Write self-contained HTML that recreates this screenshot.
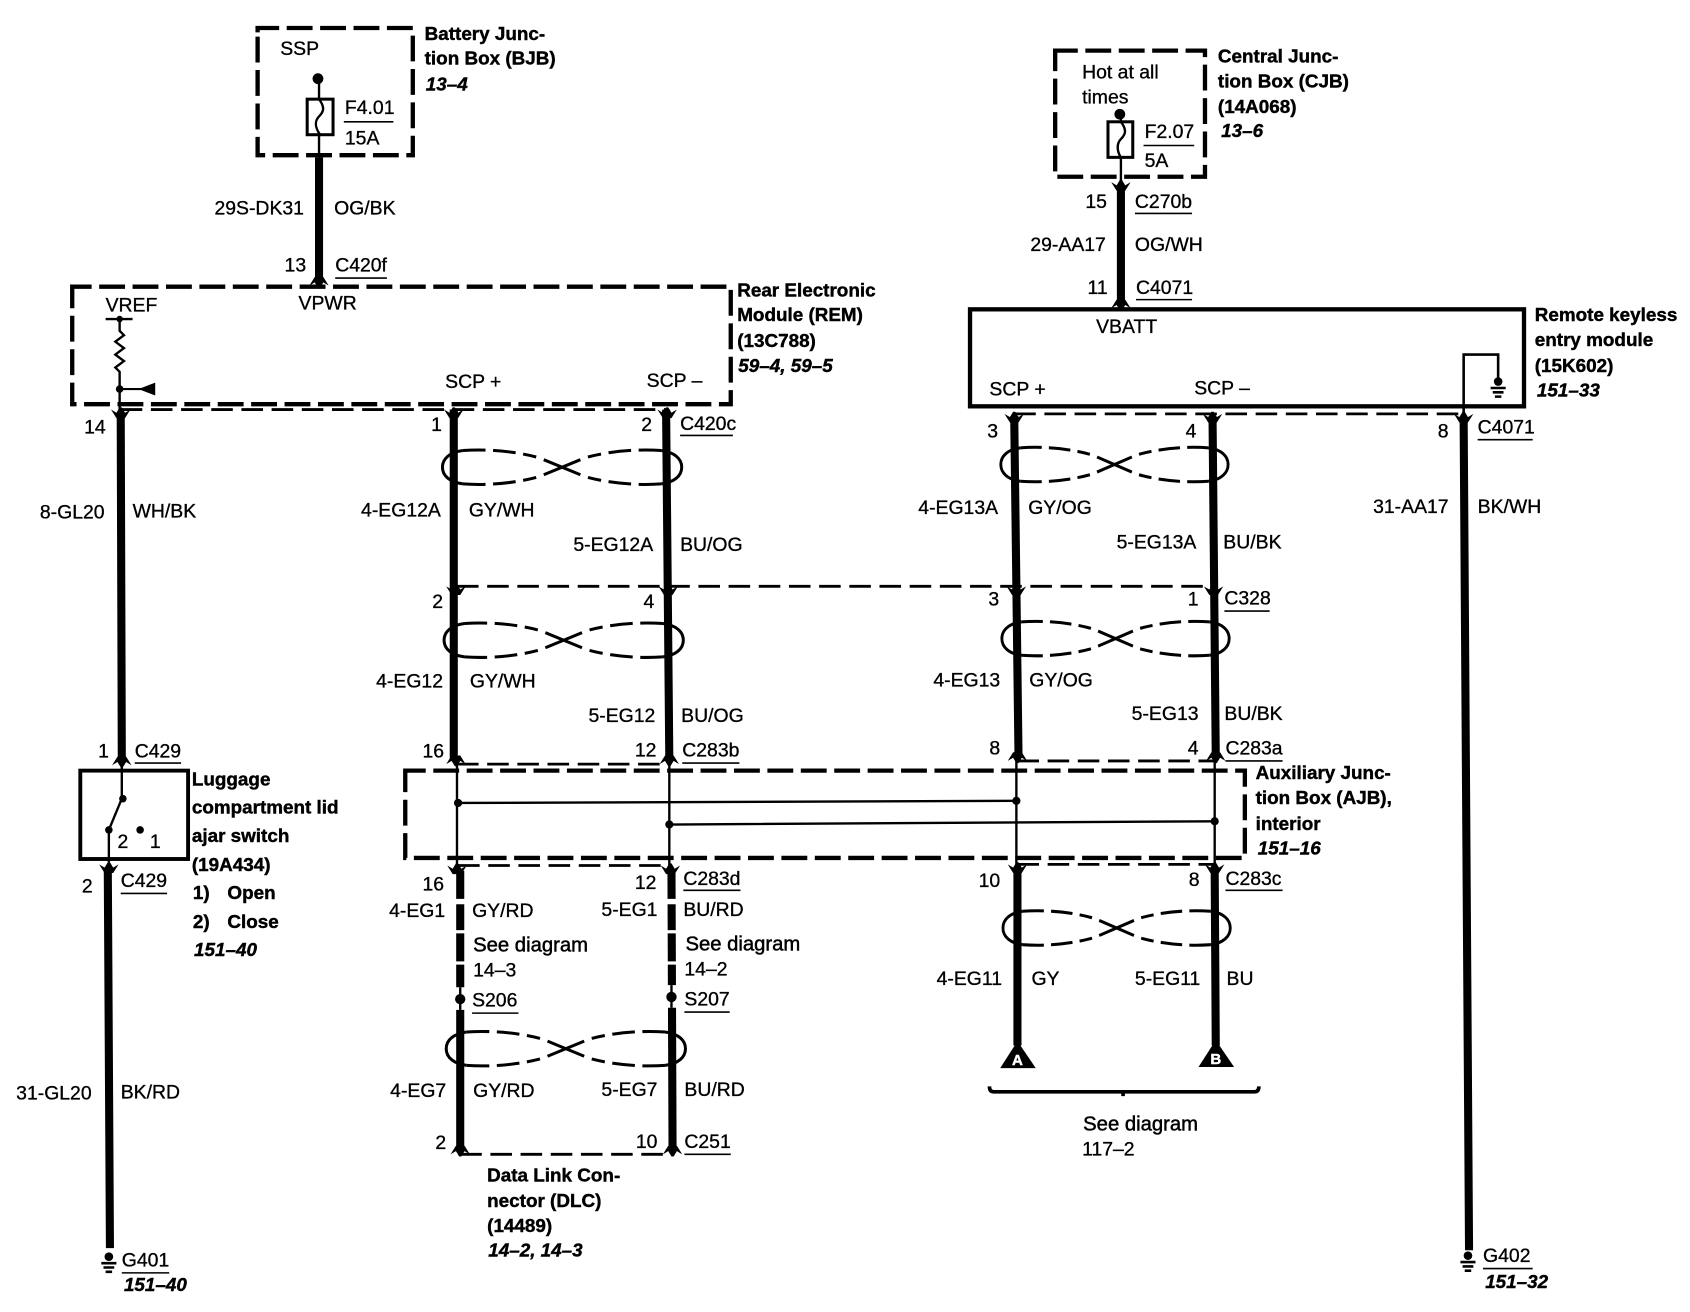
<!DOCTYPE html>
<html><head><meta charset="utf-8"><style>
html,body{margin:0;padding:0;background:#fff}
svg{display:block}
text{font-family:"Liberation Sans",sans-serif;font-size:18px;fill:#000;stroke:#000;stroke-width:.3}
.b{font-weight:bold;font-size:17.5px;stroke-width:.4}
.i{font-weight:bold;font-style:italic;font-size:17.5px;stroke-width:.4}
.s{font-size:18.8px;stroke-width:.45}
.w{fill:none;stroke:#000;stroke-width:7.5}
.n{fill:none;stroke:#000;stroke-width:2.2}
.d{fill:none;stroke:#000;stroke-width:2.6;stroke-dasharray:20 8}
.x{fill:none;stroke:#000;stroke-width:4;stroke-dasharray:24 7}
.u{fill:none;stroke:#000;stroke-width:1.5}
</style></head><body>
<svg xmlns="http://www.w3.org/2000/svg" width="1690" height="1312" viewBox="0 0 1568 1217.3">
<defs>
<g id="tw" fill="none" stroke="#000" stroke-width="2.800">
<path d="M-92,-15.500C-104,-14 -111,-8 -111,0C-111,8 -104,14 -92,15.500"/>
<path d="M92,-15.500C104,-14 111,-8 111,0C111,8 104,14 92,15.500"/>
<path d="M-17,-7L17,7M-17,7L17,-7"/>
<path stroke-dasharray="21 7" d="M-92,-15.500C-70,-17 -45,-15 -24,-9.500"/>
<path stroke-dasharray="21 7" d="M-92,15.500C-70,17 -45,15 -24,9.500"/>
<path stroke-dasharray="21 7" d="M92,-15.500C70,-17 45,-15 24,-9.500"/>
<path stroke-dasharray="21 7" d="M92,15.500C70,17 45,15 24,9.500"/>
</g>
<path id="up" d="M-9,1L-4,-2L-1,3H1L4,-2L9,1L4,-7H-4Z"/>
<path id="dn" d="M-9,-1L-4,2L-1,-3H1L4,2L9,-1L4,7H-4Z"/>
<g id="gnd"><circle cx="0" cy="0" r="4"/><path d="M-7,6H7M-5,10H5M-3,14H3" stroke="#000" stroke-width="2.400" fill="none"/></g>
</defs>

<!-- boxes -->
<path class="x" d="M239,30V26H383V144H239V30"/>
<path class="x" d="M67,272V266H678V375H67V272"/>
<path class="x" d="M979,50V47H1118V164H979V50"/>
<rect x="900" y="287" width="514" height="90" fill="none" stroke="#000" stroke-width="4"/>
<path class="x" d="M376,720V715H1155V796H376V720"/>
<rect x="74.500" y="715" width="100" height="82" fill="none" stroke="#000" stroke-width="3.600"/>

<!-- fuses -->
<circle cx="295" cy="73" r="5"/>
<path class="n" d="M296,73V146"/>
<rect x="285" y="92" width="24" height="33" fill="#fff" stroke="#000" stroke-width="2.800"/>
<path class="n" d="M296,92C302,100 300,104 296,108C292,112 292,118 297,125"/>
<path class="w" d="M296,146V258"/>
<path class="u" d="M319,113H365"/>
<circle cx="1039" cy="106" r="5"/>
<path class="n" d="M1040,106V170"/>
<rect x="1028" y="113" width="23" height="33" fill="#fff" stroke="#000" stroke-width="2.800"/>
<path class="n" d="M1040,113C1046,121 1044,125 1040,129C1036,133 1036,140 1040,146"/>
<path class="w" d="M1040,172V282"/>
<path class="u" d="M1061,135H1108"/>
<use href="#up" x="296" y="264"/><use href="#dn" x="1040" y="170"/><use href="#up" x="1040" y="285"/>

<!-- REM internals -->
<path class="n" d="M98,296H123M111,296V307L115,311L107,317L115,323L107,329L115,335L107,341L111,345V380"/>
<circle cx="111" cy="296" r="3"/>
<circle cx="111" cy="361" r="3.500"/>
<path d="M144,355V367L131,362H111V360H131Z"/>

<!-- RKE internals -->
<path d="M1358,384V329H1390V355" fill="none" stroke="#000" stroke-width="2.400"/>
<use href="#gnd" x="1390" y="354"/>

<!-- thick wires upper -->
<path class="w" d="M112,384L113,704"/>
<path class="w" d="M421,380V705"/>
<path class="w" d="M618,380L621,705"/>
<path class="w" d="M941,386L945,702"/>
<path class="w" d="M1125,386L1128,702"/>
<path class="w" d="M1358,390L1363,1160"/>

<!-- dashes -->
<path class="d" d="M112,380H620"/>
<path class="d" d="M941,384H1358"/>
<path class="d" d="M424,544H1126"/>
<path class="d" d="M424,709H620"/>
<path class="d" d="M944,706H1127"/>
<path class="d" d="M425,803H622"/>
<path class="d" d="M944,802H1128"/>
<path class="d" d="M427,1071H624"/>

<!-- AJB internals -->
<path class="n" d="M424,709V805M621,709V805M943,706V804M1127,706V804"/>
<path class="n" d="M425,745L943,743M621,765L1127,762" stroke-width="2.800"/>
<circle cx="425" cy="745" r="3.800"/><circle cx="943" cy="743" r="3.800"/><circle cx="621" cy="765" r="3.800"/><circle cx="1127" cy="762" r="3.800"/>

<!-- lower wires -->
<path class="w" d="M427,808V1068"/>
<path class="w" d="M623,808L624,1068"/>
<path class="w" d="M944,808V970"/>
<path class="w" d="M1127,808L1128,970"/>
<!-- gaps -->
<g fill="#fff">
<rect x="420" y="834" width="14" height="5"/><rect x="617" y="834" width="14" height="5"/>
<rect x="420" y="863" width="14" height="3"/><rect x="617" y="863" width="14" height="3"/>
<rect x="420" y="892" width="14" height="3"/><rect x="617" y="892" width="14" height="3"/>
<rect x="420" y="916" width="14" height="21"/><rect x="617" y="914" width="14" height="21"/>
</g>
<path class="n" d="M427,916V937M623,914V935"/>
<circle cx="427" cy="927" r="4.800"/><circle cx="623" cy="925" r="4.800"/>

<!-- arrows -->
<use href="#dn" x="112" y="381"/><use href="#dn" x="421" y="381"/><use href="#dn" x="619" y="381"/>
<use href="#dn" x="941" y="385"/><use href="#dn" x="1125" y="385"/><use href="#dn" x="1358" y="385"/>
<use href="#dn" x="423" y="545"/><use href="#dn" x="620" y="545"/><use href="#dn" x="943" y="545"/><use href="#dn" x="1126" y="545"/>
<use href="#up" x="423" y="708"/><use href="#up" x="621" y="708"/><use href="#up" x="944" y="705"/><use href="#up" x="1128" y="705"/>
<use href="#dn" x="424" y="804"/><use href="#dn" x="622" y="804"/><use href="#dn" x="944" y="803"/><use href="#dn" x="1127" y="803"/>
<use href="#up" x="427" y="1070"/><use href="#up" x="624" y="1070"/>
<use href="#up" x="113" y="709"/><use href="#dn" x="101" y="803"/>

<!-- twists -->
<use href="#tw" transform="translate(521.500,433.500)"/>
<use href="#tw" transform="translate(523,594)"/>
<use href="#tw" transform="translate(525,973)"/>
<use href="#tw" transform="translate(1034,431) scale(.95,1)"/>
<use href="#tw" transform="translate(1035,592.500) scale(.95,1)"/>
<use href="#tw" transform="translate(1036,861) scale(.95,1)"/>

<!-- switch -->
<path class="n" d="M113,709V741L101,770V800" stroke-width="2.400"/>
<circle cx="114" cy="741" r="3.500"/><circle cx="101" cy="770" r="3.500"/><circle cx="130" cy="770" r="3.500"/>
<path class="w" d="M100,806L102,1158"/>
<use href="#gnd" x="101" y="1166"/><use href="#gnd" x="1362" y="1165"/>

<!-- triangles -->
<path d="M944,966L961,991H928Z"/><path d="M1128,965L1145,990H1112Z"/>
<text x="939" y="988" class="b" style="fill:#fff;stroke:#fff;font-size:14px">A</text>
<text x="1123" y="987" class="b" style="fill:#fff;stroke:#fff;font-size:14px">B</text>
<!-- brace -->
<path d="M918,1008Q918,1013 922,1013H1164Q1168,1013 1168,1008M1042,1013V1017" fill="none" stroke="#000" stroke-width="3.400"/>

<!-- underlines -->
<path class="u" d="M311,258H359M631,404H680M1053,198H1106M1054,278H1106M1371,408H1422M1136,567H1178M633,708H686M1137,706H1190M125,708H168M112,829H155M634,826H687M1137,826H1190M438,940H481M635,939H677M635,1071H678M113,1181H157M1376,1177H1422"/>

<!-- labels -->
<text x="260" y="51">SSP</text>
<text x="320" y="106">F4.01</text><text x="320" y="134">15A</text>
<text class="b" x="394" y="37">Battery Junc-</text><text class="b" x="394" y="60">tion Box (BJB)</text><text class="i" x="395" y="84">13–4</text>
<text x="199" y="199">29S-DK31</text><text x="310" y="199">OG/BK</text>
<text x="264" y="252">13</text><text x="311" y="252">C420f</text>
<text class="b" x="684" y="275">Rear Electronic</text><text class="b" x="684" y="298">Module (REM)</text><text class="b" x="684" y="322">(13C788)</text><text class="i" x="685" y="345">59–4, 59–5</text>
<text x="98" y="289">VREF</text><text x="277" y="287">VPWR</text>
<text x="413" y="360">SCP +</text><text x="600" y="359">SCP –</text>
<text x="78" y="402">14</text><text x="400" y="400">1</text><text x="595" y="400">2</text><text x="631" y="399">C420c</text>
<text x="37" y="481">8-GL20</text><text x="123" y="480">WH/BK</text>
<text x="335" y="479">4-EG12A</text><text x="435" y="479">GY/WH</text>
<text x="532" y="511">5-EG12A</text><text x="631" y="511">BU/OG</text>
<text x="401" y="564">2</text><text x="597" y="564">4</text>
<text x="349" y="638">4-EG12</text><text x="436" y="638">GY/WH</text>
<text x="546" y="670">5-EG12</text><text x="632" y="670">BU/OG</text>
<text x="392" y="703">16</text><text x="589" y="702">12</text><text x="633" y="702">C283b</text>
<text x="392" y="826">16</text><text x="589" y="825">12</text><text x="634" y="821">C283d</text>
<text x="361" y="851">4-EG1</text><text x="438" y="851">GY/RD</text><text x="558" y="850">5-EG1</text><text x="634" y="850">BU/RD</text>
<text class="s" x="439" y="883">See diagram</text><text x="439" y="906">14–3</text><text x="438" y="934">S206</text>
<text class="s" x="636" y="882">See diagram</text><text x="635" y="905">14–2</text><text x="635" y="933">S207</text>
<text x="362" y="1018">4-EG7</text><text x="439" y="1018">GY/RD</text><text x="558" y="1017">5-EG7</text><text x="635" y="1017">BU/RD</text>
<text x="404" y="1066">2</text><text x="590" y="1065">10</text><text x="635" y="1065">C251</text>
<text class="b" x="452" y="1096">Data Link Con-</text><text class="b" x="452" y="1120">nector (DLC)</text><text class="b" x="452" y="1143">(14489)</text><text class="i" x="453" y="1166">14–2, 14–3</text>
<text x="91" y="703">1</text><text x="125" y="703">C429</text>
<text x="109" y="787">2</text><text x="139" y="787">1</text>
<text x="76" y="828">2</text><text x="112" y="823">C429</text>
<text class="b" x="178" y="729">Luggage</text><text class="b" x="178" y="755">compartment lid</text><text class="b" x="178" y="781">ajar switch</text><text class="b" x="178" y="808">(19A434)</text>
<text class="b" x="179" y="834">1)</text><text class="b" x="211" y="834">Open</text><text class="b" x="179" y="861">2)</text><text class="b" x="211" y="861">Close</text><text class="i" x="180" y="887">151–40</text>
<text x="15" y="1020">31-GL20</text><text x="112" y="1019">BK/RD</text>
<text x="113" y="1175">G401</text><text class="i" x="115" y="1198">151–40</text>

<text x="1004" y="73">Hot at all</text><text x="1004" y="96">times</text>
<text x="1062" y="128">F2.07</text><text x="1062" y="155">5A</text>
<text class="b" x="1130" y="58">Central Junc-</text><text class="b" x="1130" y="81">tion Box (CJB)</text><text class="b" x="1130" y="105">(14A068)</text><text class="i" x="1133" y="127">13–6</text>
<text x="1007" y="193">15</text><text x="1053" y="193">C270b</text>
<text x="956" y="233">29-AA17</text><text x="1053" y="233">OG/WH</text>
<text x="1009" y="273">11</text><text x="1054" y="273">C4071</text>
<text x="1017" y="309">VBATT</text><text x="918" y="367">SCP +</text><text x="1108" y="366">SCP –</text>
<text class="b" x="1424" y="298">Remote keyless</text><text class="b" x="1424" y="321">entry module</text><text class="b" x="1424" y="345">(15K602)</text><text class="i" x="1426" y="368">151–33</text>
<text x="916" y="406">3</text><text x="1100" y="406">4</text><text x="1334" y="406">8</text><text x="1371" y="402">C4071</text>
<text x="852" y="477">4-EG13A</text><text x="954" y="477">GY/OG</text><text x="1036" y="509">5-EG13A</text><text x="1135" y="509">BU/BK</text>
<text x="1274" y="476">31-AA17</text><text x="1371" y="476">BK/WH</text>
<text x="917" y="562">3</text><text x="1102" y="562">1</text><text x="1136" y="561">C328</text>
<text x="866" y="637">4-EG13</text><text x="955" y="637">GY/OG</text><text x="1050" y="668">5-EG13</text><text x="1136" y="668">BU/BK</text>
<text x="918" y="700">8</text><text x="1102" y="700">4</text><text x="1137" y="700">C283a</text>
<text class="b" x="1165" y="723">Auxiliary Junc-</text><text class="b" x="1165" y="746">tion Box (AJB),</text><text class="b" x="1165" y="770">interior</text><text class="i" x="1167" y="793">151–16</text>
<text x="908" y="823">10</text><text x="1103" y="822">8</text><text x="1137" y="821">C283c</text>
<text x="869" y="914">4-EG11</text><text x="957" y="914">GY</text><text x="1053" y="914">5-EG11</text><text x="1138" y="914">BU</text>
<text class="s" x="1005" y="1049">See diagram</text><text x="1004" y="1072">117–2</text>
<text x="1376" y="1171">G402</text><text class="i" x="1378" y="1195">151–32</text>
</svg>
</body></html>
